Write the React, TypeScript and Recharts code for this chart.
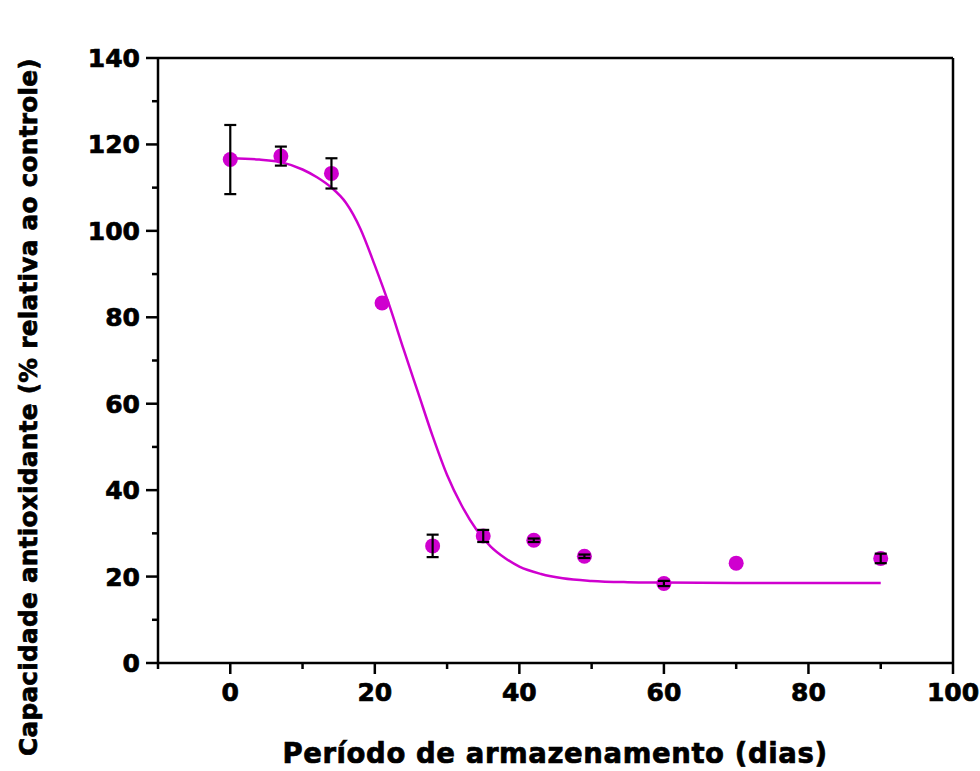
import React from 'react';
import { ComposedChart, Line, Scatter, ErrorBar, XAxis, YAxis, ReferenceLine } from 'recharts';

// measured points (days vs % of control) with standard deviation
const days = [0, 7, 14, 21, 28, 35, 42, 49, 60, 70, 90];
const capacity = [116.5, 117.3, 113.3, 83.3, 27.1, 29.4, 28.4, 24.7, 18.4, 23.1, 24.2];
const deviation = [8.0, 2.2, 3.5, 0, 2.6, 1.4, 0.4, 0.4, 0.6, 0, 1.1];

// fitted sigmoid curve
const fitDays = [0, 4, 7, 10, 12, 14, 16, 18, 20, 22, 24, 26, 28, 30, 32, 34, 36, 38, 40, 43, 46, 50, 55, 60, 70, 80, 90];
const fitValues = [116.8, 116.5, 115.9, 114.2, 112.4, 110.0, 106.5, 100.5, 92.0, 82.8, 72.5, 62.5, 52.5, 43.5, 36.5, 31.0, 27.0, 24.3, 22.3, 20.6, 19.6, 19.0, 18.7, 18.6, 18.5, 18.5, 18.5];

const xTicks = [-10, 0, 10, 20, 30, 40, 50, 60, 70, 80, 90, 100];
const yTicks = [0, 10, 20, 30, 40, 50, 60, 70, 80, 90, 100, 110, 120, 130, 140];

const points = days.map((d, i) => ({ x: d, y: capacity[i], err: deviation[i] }));
const curve = fitDays.map((d, i) => ({ x: d, fit: fitValues[i] }));

const MAGENTA = '#CF00CF';
const FONT = 'DejaVu Sans, sans-serif';
// heavier look, the original uses a black-weight face
const heavy = { fontFamily: FONT, fontWeight: 'bold' as const, fill: '#000', stroke: '#000', strokeWidth: 0.7 };

const XTick = (props: any) => {
  const { x, y, payload } = props;
  const major = payload.value % 20 === 0;
  return (
    <g>
      <line x1={x} x2={x} y1={y} y2={y + (major ? 11 : 6)} stroke="#000" strokeWidth={2.5} />
      {major && (
        <text x={x} y={y + 38} textAnchor="middle" fontSize={25} {...heavy}>
          {payload.value}
        </text>
      )}
    </g>
  );
};

const YTick = (props: any) => {
  const { x, y, payload } = props;
  const major = payload.value % 20 === 0;
  return (
    <g>
      <line x1={x} x2={x - (major ? 12 : 6)} y1={y} y2={y} stroke="#000" strokeWidth={2.5} />
      {major && (
        <text x={x - 18} y={y + 9} textAnchor="end" fontSize={25} {...heavy}>
          {payload.value}
        </text>
      )}
    </g>
  );
};

const Dot = (props: any) => <circle cx={props.cx} cy={props.cy} r={7.5} fill={MAGENTA} />;
const Empty = () => <g />;

export default function App() {
  return (
    <div style={{ position: 'absolute', left: 0, top: 0, width: 980, height: 771, background: '#fff' }}>
      <ComposedChart width={980} height={771} margin={{ top: 58, right: 27, bottom: 48, left: 0 }}>
        <XAxis
          dataKey="x"
          type="number"
          domain={[-10, 100]}
          ticks={xTicks}
          interval={0}
          tickSize={0}
          tickMargin={0}
          tick={<XTick />}
          tickLine={false}
          axisLine={{ stroke: '#000', strokeWidth: 2.5 }}
          height={60}
          allowDataOverflow
        />
        <YAxis
          type="number"
          domain={[0, 140]}
          ticks={yTicks}
          interval={0}
          tickSize={0}
          tickMargin={0}
          tick={<YTick />}
          tickLine={false}
          axisLine={{ stroke: '#000', strokeWidth: 2.5 }}
          width={158}
          allowDataOverflow
        />
        <ReferenceLine y={140} stroke="#000" strokeWidth={2.5} />
        <ReferenceLine x={100} stroke="#000" strokeWidth={2.5} />
        <Line
          data={curve}
          dataKey="fit"
          type="monotone"
          stroke={MAGENTA}
          strokeWidth={2.5}
          dot={false}
          activeDot={false}
          isAnimationActive={false}
        />
        <Scatter data={points} dataKey="y" shape={<Dot />} isAnimationActive={false} />
        <Scatter data={points} dataKey="y" shape={<Empty />} isAnimationActive={false} zIndex={900}>
          <ErrorBar
            dataKey="err"
            direction="y"
            width={6}
            stroke="#000"
            strokeWidth={2.2}
            isAnimationActive={false}
            zIndex={1000}
          />
        </Scatter>
        <text x={555} y={763} textAnchor="middle" fontSize={27.5} letterSpacing={0.6} {...heavy}>
          Período de armazenamento (dias)
        </text>
        <text
          x={37}
          y={407}
          textAnchor="middle"
          transform="rotate(-90 37 407)"
          fontSize={24.7}
          letterSpacing={0.3}
          {...heavy}
        >
          Capacidade antioxidante (% relativa ao controle)
        </text>
      </ComposedChart>
    </div>
  );
}
